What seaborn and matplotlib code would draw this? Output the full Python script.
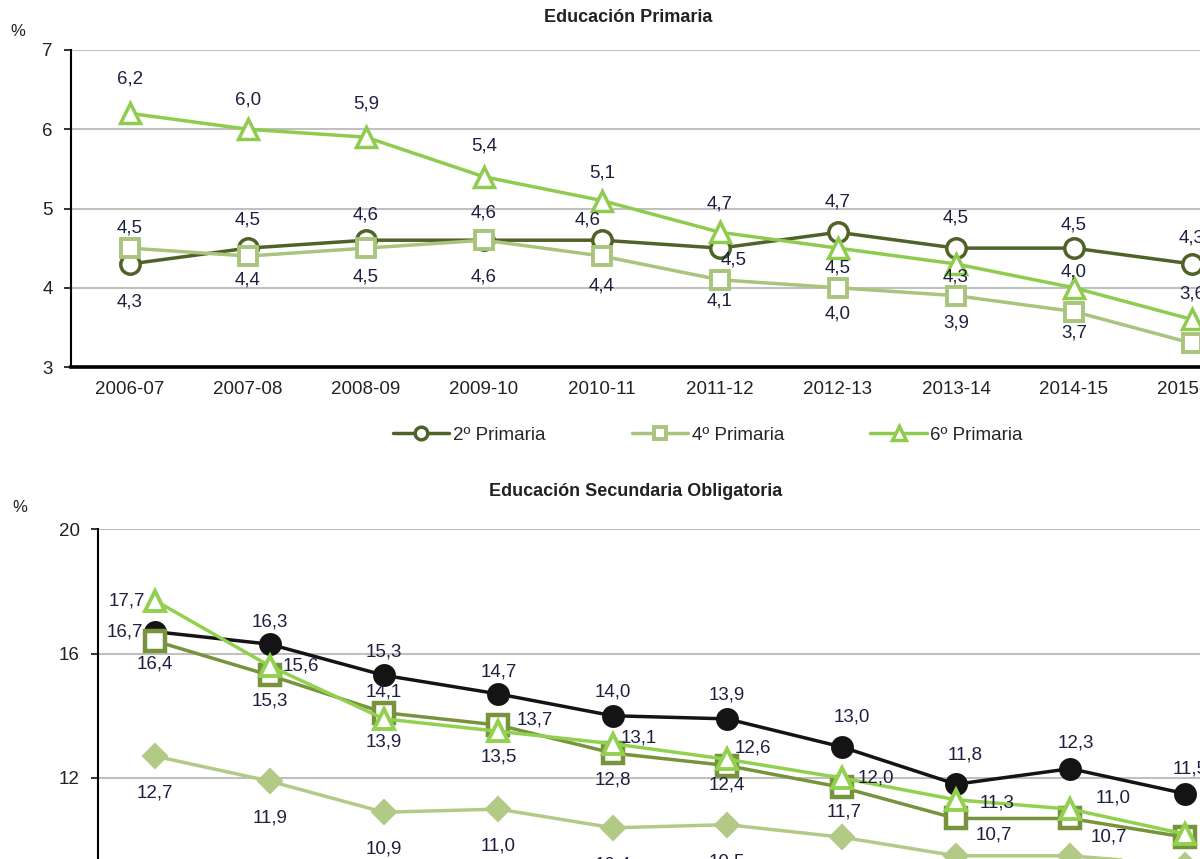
import numpy as np
import matplotlib
matplotlib.use('Agg')
import matplotlib.pyplot as plt
import seaborn as sns

# Data
years = ['2006-07', '2007-08', '2008-09', '2009-10', '2010-11',
         '2011-12', '2012-13', '2013-14', '2014-15', '2015-16']

prim_2 = [4.3, 4.5, 4.6, 4.6, 4.6, 4.5, 4.7, 4.5, 4.5, 4.3]
prim_4 = [4.5, 4.4, 4.5, 4.6, 4.4, 4.1, 4.0, 3.9, 3.7, 3.3]
prim_6 = [6.2, 6.0, 5.9, 5.4, 5.1, 4.7, 4.5, 4.3, 4.0, 3.6]

eso_1 = [16.7, 16.3, 15.3, 14.7, 14.0, 13.9, 13.0, 11.8, 12.3, 11.5]
eso_2 = [16.4, 15.3, 14.1, 13.7, 12.8, 12.4, 11.7, 10.7, 10.7, 10.1]
eso_3 = [17.7, 15.6, 13.9, 13.5, 13.1, 12.6, 12.0, 11.3, 11.0, 10.2]
eso_4 = [12.7, 11.9, 10.9, 11.0, 10.4, 10.5, 10.1, 9.5, 9.5, 9.2]

# label offsets in pixels (dx, dy), None = no label
off_p2 = [(0, -38), (0, 28), (0, 25), (0, 27), (-14, 20), (14, -12), (0, 30), (0, 30), (0, 23), (0, 26)]
off_p4 = [(0, 20), (0, -24), (0, -29), (0, -37), (0, -30), (0, -21), (0, -26), (0, -27), (0, -21), None]
off_p6 = [(0, 34), (0, 29), (0, 33), (0, 31), (0, 28), (0, 28), (0, -20), (0, -13), (0, 16), (0, 25)]

off_e1 = [(-30, 0), (0, 22), (0, 23), (0, 22), (0, 24), (0, 24), (10, 30), (9, 29), (5, 26), (5, 25)]
off_e2 = [(0, -23), (0, -26), (0, 21), (36, 5), (0, -27), (0, -19), (3, -25), (38, -17), (38, -19), (38, -19)]
off_e3 = [(-28, 0), (31, 0), (0, -23), (0, -26), (26, 6), (26, 11), (34, 0), (41, -3), (43, 11), (43, 11)]
off_e4 = [(0, -37)] * 10

sns.set_style("white")
plt.rcParams['font.family'] = ['Liberation Sans', 'DejaVu Sans']

FS = 13.5
LABEL_COL = '#1f2040'
x = np.arange(len(years))

fig = plt.figure(figsize=(12, 8.59), dpi=100)
W, H = 1200, 859

ax1 = fig.add_axes([71 / W, (H - 367) / H, 1180 / W, 317 / H])
ax2 = fig.add_axes([98 / W, (H - 902.5) / H, 1144 / W, 373.5 / H])


def draw(ax, vals, offs, color, marker, ms, face, mew, label):
    sns.lineplot(x=x, y=vals, ax=ax, color=color, linewidth=2.5, marker=marker,
                 markersize=ms, markerfacecolor=face, markeredgecolor=color,
                 markeredgewidth=mew, label=label)
    for i, v in enumerate(vals):
        if offs[i] is None:
            continue
        ax.annotate(f"{v:.1f}".replace('.', ','), (i, v), xytext=offs[i],
                    textcoords='offset pixels', ha='center', va='center',
                    fontsize=FS, color=LABEL_COL, annotation_clip=False)


draw(ax1, prim_2, off_p2, '#4f6228', 'o', 14, 'white', 2.5, '2º Primaria')
draw(ax1, prim_4, off_p4, '#a9c47c', 's', 13, 'white', 2.8, '4º Primaria')
draw(ax1, prim_6, off_p6, '#8fcb4e', '^', 15, 'white', 2.5, '6º Primaria')

draw(ax2, eso_1, off_e1, '#141414', 'o', 15, '#141414', 1.5, '1º ESO')
draw(ax2, eso_2, off_e2, '#77933c', 's', 14, 'white', 3.2, '2º ESO')
draw(ax2, eso_3, off_e3, '#92d050', '^', 15, 'white', 2.8, '3º ESO')
draw(ax2, eso_4, off_e4, '#b3ca87', 'D', 12, '#b3ca87', 1.5, '4º ESO')

handles, labels = ax1.get_legend_handles_labels()
for ax in (ax1, ax2):
    if ax.get_legend() is not None:
        ax.get_legend().remove()

ax1.set_ylim(3, 7)
ax1.set_yticks([3, 4, 5, 6, 7])
ax2.set_ylim(8, 20)
ax2.set_yticks([8, 12, 16, 20])

for ax in (ax1, ax2):
    ax.set_xlim(-0.5, len(years) - 0.5)
    ax.set_xticks(x)
    ax.set_xticklabels(years)
    ax.set_xlabel('')
    ax.set_ylabel('')
    ax.yaxis.grid(True, color='#c0c0c0', linewidth=1.5)
    ax.set_axisbelow(True)
    for s in ('top', 'right'):
        ax.spines[s].set_visible(False)
    ax.spines['left'].set_color('black')
    ax.spines['left'].set_linewidth(1.5)
    ax.spines['bottom'].set_color('black')
    ax.spines['bottom'].set_linewidth(2.6)
    ax.tick_params(axis='y', left=True, length=5, width=1.3, direction='out',
                   pad=8, labelsize=FS, colors='#222222')
    ax.tick_params(axis='x', bottom=False, length=0, pad=10, labelsize=FS,
                   colors='#222222')

fig.text(628 / W, 1 - 18 / H, 'Educación Primaria', ha='center', va='center',
         fontsize=13, fontweight='bold', color='#222222')
fig.text(636 / W, 1 - 492 / H, 'Educación Secundaria Obligatoria', ha='center',
         va='center', fontsize=13, fontweight='bold', color='#222222')
fig.text(18 / W, 1 - 32 / H, '%', ha='center', va='center', fontsize=12, color='#222222')
fig.text(20 / W, 1 - 507 / H, '%', ha='center', va='center', fontsize=12, color='#222222')

fig.legend(handles, labels, loc='center', bbox_to_anchor=(708 / W, 1 - 435 / H),
           ncol=3, frameon=False, fontsize=FS, handlelength=3.0,
           columnspacing=4.6, handletextpad=0.2, markerscale=0.65)

fig.savefig('out.png', dpi=100)
